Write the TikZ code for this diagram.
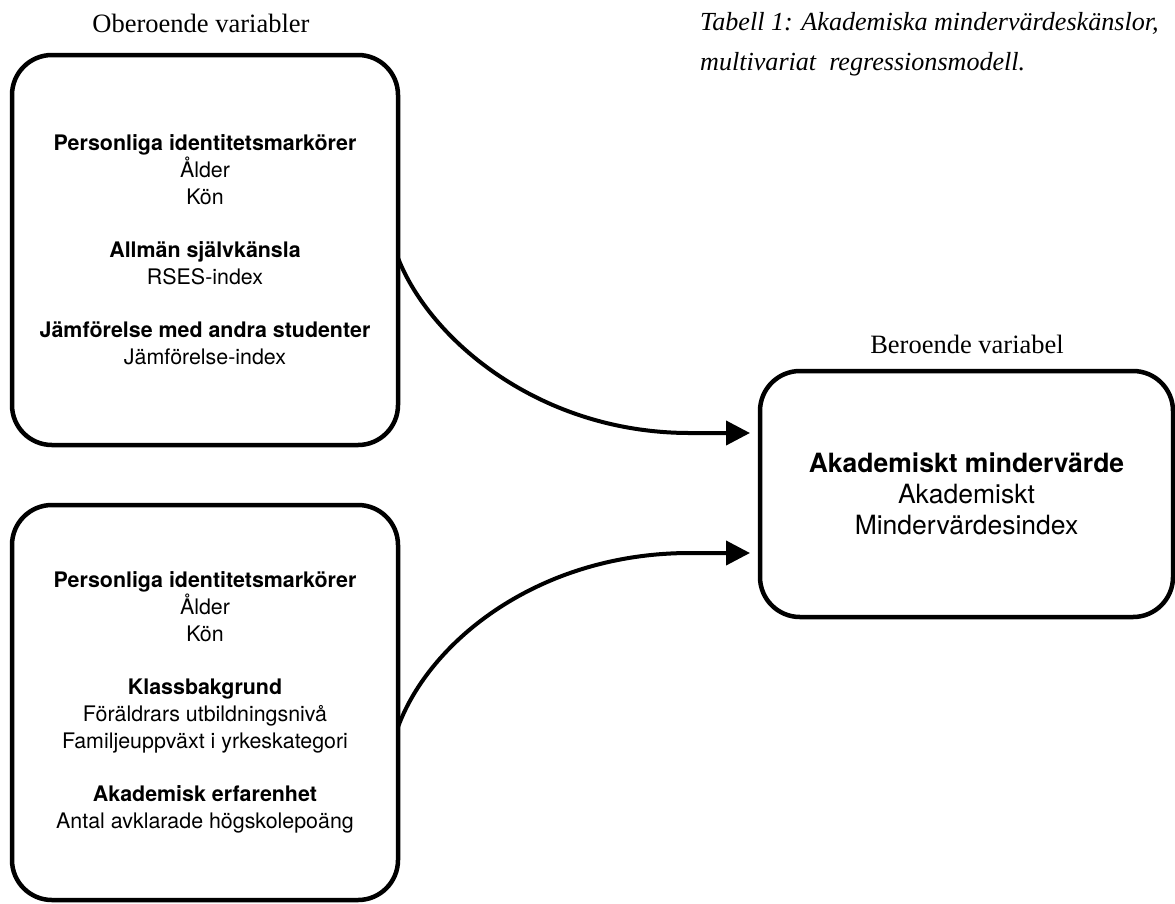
\documentclass[tikz,border=0pt]{standalone}
\usepackage{fontspec}
\setmainfont{Liberation Serif}
\setsansfont{TeX Gyre Heros}
\usetikzlibrary{arrows.meta}
\tikzset{
  varbox/.style={draw, line width=4.5pt, rounded corners=40pt, outer sep=0pt, align=center,
    font=\sffamily\fontsize{21.4pt}{27pt}\selectfont},
  depbox/.style={varbox, font=\sffamily\fontsize{26.5pt}{31pt}\selectfont},
  header/.style={font=\rmfamily\fontsize{26.5pt}{32pt}\selectfont, anchor=base, inner sep=0pt},
  titletext/.style={font=\rmfamily\itshape\fontsize{26.1pt}{32pt}\selectfont, anchor=base west, inner sep=0pt},
  conn/.style={line width=4pt, -{Triangle[length=24pt,width=24pt]}}
}
\begin{document}
\begin{tikzpicture}[x=1pt,y=-1pt]
\useasboundingbox (0,0) rectangle (1175,903);
\node[header] (hind) at (201,32) {Oberoende variabler};
\node[header] (hdep) at (967,353) {Beroende variabel};
\node[titletext] (title1) at (700,30) {Tabell 1: Akademiska mindervärdeskänslor,};
\node[titletext] (title2) at (700,70) {multivariat\ \ regressionsmodell.};

\node[varbox, minimum width=386pt, minimum height=390pt] (ind1) at (205,250)
 {\textbf{Personliga identitetsmarkörer}\\ Ålder\\ Kön\\[26pt]
  \textbf{Allmän självkänsla}\\ RSES-index\\[26pt]
  \textbf{Jämförelse med andra studenter}\\ Jämförelse-index};

\node[varbox, minimum width=386pt, minimum height=395pt] (ind2) at (205,702.5)
 {\textbf{Personliga identitetsmarkörer}\\ Ålder\\ Kön\\[26pt]
  \textbf{Klassbakgrund}\\ Föräldrars utbildningsnivå\\ Familjeuppväxt i yrkeskategori\\[26pt]
  \textbf{Akademisk erfarenhet}\\ Antal avklarade högskolepoäng};

\node[depbox, minimum width=413pt, minimum height=246pt] (dep) at (966.5,494)
 {\textbf{Akademiskt mindervärde}\\ Akademiskt\\ Mindervärdesindex};

\draw[conn] ([yshift=-8pt]ind1.east) .. controls (430,340) and (540,433) .. (690,433)
  -- ([xshift=-10pt,yshift=61pt]dep.west);
\draw[conn] ([yshift=-24.5pt]ind2.east) .. controls (430,640) and (540,553) .. (690,553)
  -- ([xshift=-10pt,yshift=-59pt]dep.west);
\end{tikzpicture}
\end{document}
